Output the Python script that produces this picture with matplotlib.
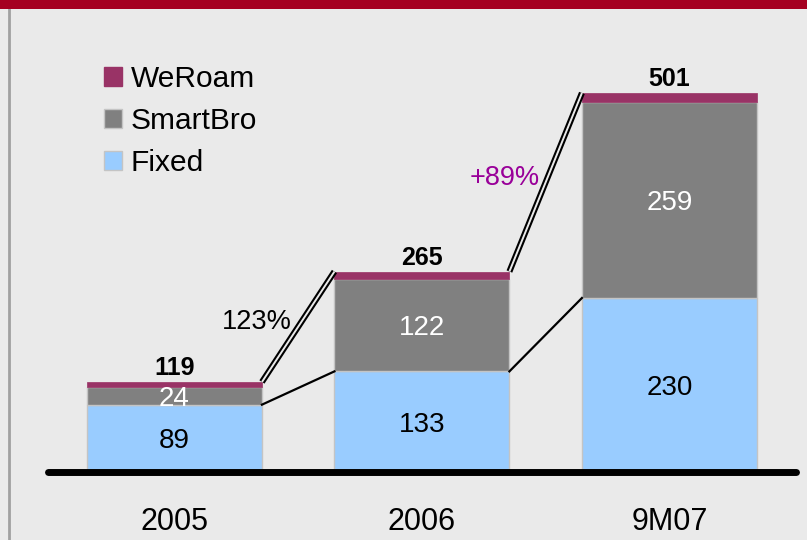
"""Broadband subscribers stacked bars with growth connectors."""
import matplotlib

matplotlib.use("Agg")
import matplotlib.pyplot as plt  # noqa: E402
from matplotlib.patches import Rectangle  # noqa: E402
from matplotlib.lines import Line2D  # noqa: E402
import numpy as np  # noqa: E402

plt.rcParams["font.family"] = ["Liberation Sans", "DejaVu Sans"]

periods = ["2005", "2006", "9M07"]
fixed = [89, 133, 230]
smartbro = [24, 122, 259]
weroam = [6, 10, 12]
totals = [119, 265, 501]
growth_labels = ["123%", "+89%"]

BG = "#eaeaea"
C_FIXED = "#99ccff"
C_SMART = "#808080"
C_WEROAM = "#993366"
EDGE = "#c4c4c4"

fig = plt.figure(figsize=(8.07, 5.40), dpi=100, facecolor=BG)
ax = fig.add_axes([0, 0, 1, 1])
ax.set_facecolor(BG)

x = np.arange(len(periods))
width = 0.707
ax.set_xlim(-0.705, 2.556)
ax.set_ylim(-89.9, 623.9)

fixed_a = np.array(fixed)
smart_a = np.array(smartbro)
wer_a = np.array(weroam)

ax.bar(x, fixed_a, width, color=C_FIXED, edgecolor=EDGE, lw=1, label="Fixed", zorder=2)
ax.bar(x, smart_a, width, bottom=fixed_a, color=C_SMART, edgecolor=EDGE, lw=1,
       label="SmartBro", zorder=2)
ax.bar(x, wer_a, width, bottom=fixed_a + smart_a, color=C_WEROAM, edgecolor=C_WEROAM,
       lw=0.5, label="WeRoam", zorder=2)

# baseline
ax.plot([-0.51, 2.51], [0, 0], color="black", lw=5, solid_capstyle="round", zorder=4)

# connectors
tops = fixed_a + smart_a + wer_a
for i in range(len(periods) - 1):
    xa, xb = x[i] + width / 2, x[i + 1] - width / 2
    ax.plot([xa, xb], [tops[i], tops[i + 1]], color="black", lw=4.4, zorder=3,
            solid_capstyle="butt")
    ax.plot([xa, xb], [tops[i], tops[i + 1]], color=BG, lw=1.4, zorder=3,
            solid_capstyle="butt")
    ax.plot([xa, xb], [fixed_a[i], fixed_a[i + 1]], color="black", lw=1.6, zorder=3)

# segment labels
for i in range(len(periods)):
    ax.text(x[i], fixed_a[i] / 2 - 4, str(fixed[i]), ha="center", va="center",
            fontsize=20, color="black", zorder=5)
    ax.text(x[i], fixed_a[i] + smart_a[i] / 2 - 4, str(smartbro[i]), ha="center",
            va="center", fontsize=20, color="white", zorder=5)
    ax.text(x[i], tops[i] + 18, str(totals[i]), ha="center", va="center",
            fontsize=18, fontweight="bold", color="black", zorder=5)

ax.text(0.333, 198, growth_labels[0], ha="center", va="center", fontsize=19.5,
        color="black", zorder=5)
ax.text(1.335, 389, growth_labels[1], ha="center", va="center", fontsize=19.5,
        color="#990099", zorder=5)

for i, lab in enumerate(periods):
    ax.text(x[i], -66, lab, ha="center", va="center", fontsize=22, color="black")

handles = [
    Rectangle((0, 0), 1, 1, fc=C_WEROAM, ec=C_WEROAM),
    Rectangle((0, 0), 1, 1, fc=C_SMART, ec=EDGE),
    Rectangle((0, 0), 1, 1, fc=C_FIXED, ec=EDGE),
]
ax.legend(handles, ["WeRoam", "SmartBro", "Fixed"], loc="upper left",
          bbox_to_anchor=(0.110, 0.908), frameon=False, fontsize=21.5,
          handlelength=0.6, handleheight=0.6, handletextpad=0.3,
          labelspacing=0.47, borderpad=0)

ax.axis("off")

# slide decoration: red band on top and grey rule on the left
fig.patches.append(Rectangle((0, 1 - 9 / 540), 1, 9 / 540, transform=fig.transFigure,
                             fc="#a50021", ec="none", zorder=10))
fig.lines.append(Line2D([9 / 807, 9 / 807], [0, 1 - 9 / 540], transform=fig.transFigure,
                        color="#a0a0a0", lw=2, zorder=10))

fig.savefig("out.png", dpi=100, facecolor=BG)
plt.close(fig)
